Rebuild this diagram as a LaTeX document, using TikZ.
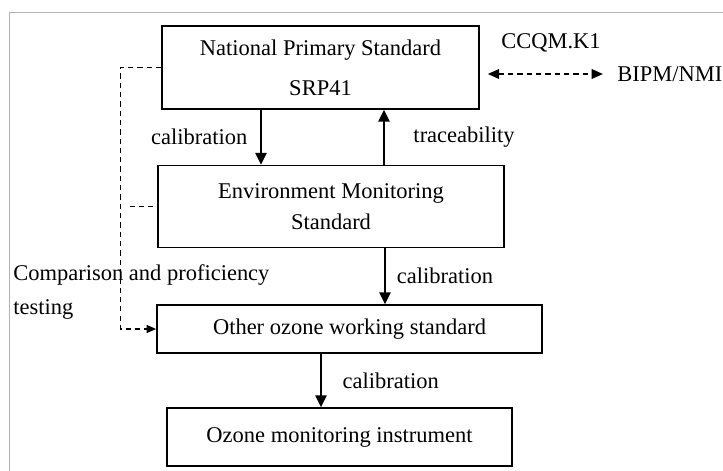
\documentclass[tikz,border=0pt]{standalone}
\usepackage{fontspec}
\setmainfont{Liberation Serif}
\usetikzlibrary{arrows.meta,positioning}

\begin{document}
\begin{tikzpicture}[x=1cm,y=1cm,
  every node/.style={font=\fontsize{12.8}{17.6}\selectfont},
  stdbox/.style={draw,line width=0.9pt,align=center,inner sep=0pt},
  flow/.style={-{Triangle[length=6.8pt,width=6.5pt]},line width=0.9pt},
  dashflow/.style={dash pattern=on 3pt off 2.3pt,line width=1pt}]
  \useasboundingbox (0,0) rectangle (14.46,9.4);
  \draw[gray!60,line width=0.6pt] (0.19,-0.5) -- (0.19,9.146) -- (15,9.146);

  % standards chain
  \node[stdbox,minimum width=6.34cm,minimum height=1.66cm] (nps) at (6.41,8.05) {National Primary Standard\\[5pt]SRP41};
  \node[stdbox,minimum width=6.92cm,minimum height=1.64cm] (ems) at (6.62,5.27) {Environment Monitoring\\Standard};
  \node[stdbox,minimum width=7.70cm,minimum height=0.96cm] (ows) at (6.99,2.82) {Other ozone working standard};
  \node[stdbox,minimum width=6.90cm,minimum height=1.16cm] (omi) at (6.79,0.66) {Ozone monitoring instrument};

  \draw[flow] ([xshift=-1.19cm]nps.south) -- ([xshift=-1.19cm]nps.south |- ems.north) node[midway,left=4pt] {calibration};
  \draw[flow] ([xshift=1.27cm]nps.south |- ems.north) -- ([xshift=1.27cm]nps.south) node[midway,right=13pt] {traceability};
  \draw[flow] ([xshift=1.08cm]ems.south) -- ([xshift=1.08cm]ems.south |- ows.north) node[midway,right=3pt] {calibration};
  \draw[flow] ([xshift=-0.57cm]ows.south) -- ([xshift=-0.57cm]ows.south |- omi.north) node[midway,right=8.5pt] {calibration};

  % comparison loop
  \coordinate (cmp) at (2.41,0);
  \draw[dashflow,-{Triangle[length=5.5pt,width=4.5pt]}] (nps.west) -- (nps.west -| cmp) -- (ows.west -| cmp) -- (ows.west);
  \draw[dashflow] ([xshift=0.18cm]ems.west -| cmp) -- (ems.west);
  \node[anchor=north west,align=left,inner sep=0pt,font=\fontsize{12.8}{19.3}\selectfont] (cmplbl) at (0.26,4.12) {Comparison and proficiency\\testing};

  % key comparison
  \node (ccqm) at (11.02,8.55) {CCQM.K1};
  \node[anchor=west,inner sep=0pt] (bipm) at (12.34,7.92) {BIPM/NMI};
  \draw[dashflow,{Triangle[length=6.5pt,width=5.5pt]}-{Triangle[length=6.5pt,width=5.5pt]},shorten >=8pt] ([shift={(0.16,-0.13)}]nps.east) -- (bipm.west);
\end{tikzpicture}
\end{document}
